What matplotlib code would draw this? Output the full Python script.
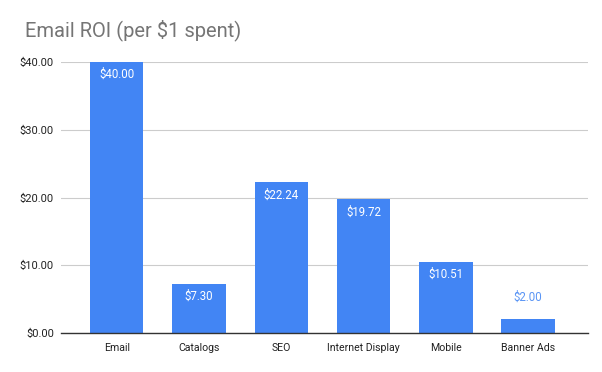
import matplotlib
matplotlib.use("Agg")
import matplotlib.pyplot as plt

categories = ["Email", "Catalogs", "SEO", "Internet Display", "Mobile", "Banner Ads"]
values = [40.00, 7.30, 22.24, 19.72, 10.51, 2.00]
yticks = [0, 10, 20, 30, 40]
title = "Email ROI (per $1 spent)"

plt.rcParams['font.family'] = ['Roboto', 'DejaVu Sans']
blue = "#4285F4"

fig = plt.figure(figsize=(6.02, 3.72), dpi=100)
ax = fig.add_axes([0.101, 0.105, 0.876, 0.728])
x = list(range(len(categories)))
bars = ax.bar(x, values, width=0.65, color=blue, zorder=3)
ax.set_xlim(-0.68, 5.73)
ax.set_ylim(0, 40)
ax.set_yticks(yticks)
ax.set_yticklabels([f"${v:.2f}" for v in yticks], fontsize=8, color="#222222")
ax.set_xticks(x)
ax.set_xticklabels(categories, fontsize=7.6, color="#222222")
ax.tick_params(length=0, pad=5)
ax.tick_params(axis='x', pad=7)
ax.grid(axis='y', color="#cccccc", linewidth=0.8, zorder=0)
for s in ["top", "right", "left"]:
    ax.spines[s].set_visible(False)
ax.spines["bottom"].set_color("#333333")
ax.spines["bottom"].set_linewidth(1.0)
ax.spines["bottom"].set_zorder(4)

for xi, v in zip(x, values):
    if v > 5:
        ax.annotate(f"${v:.2f}", (xi, v), xytext=(0, -9), textcoords="offset points",
                    ha="center", va="center", fontsize=8.3, color="white", zorder=5)
    else:
        ax.annotate(f"${v:.2f}", (xi, v), xytext=(0, 16), textcoords="offset points",
                    ha="center", va="center", fontsize=8.3, color="#5a95f5", zorder=5)

fig.text(25/602, 1 - 30/372, title, fontsize=14.5, color="#757575", ha="left", va="center")
fig.savefig("out.png", dpi=100)
